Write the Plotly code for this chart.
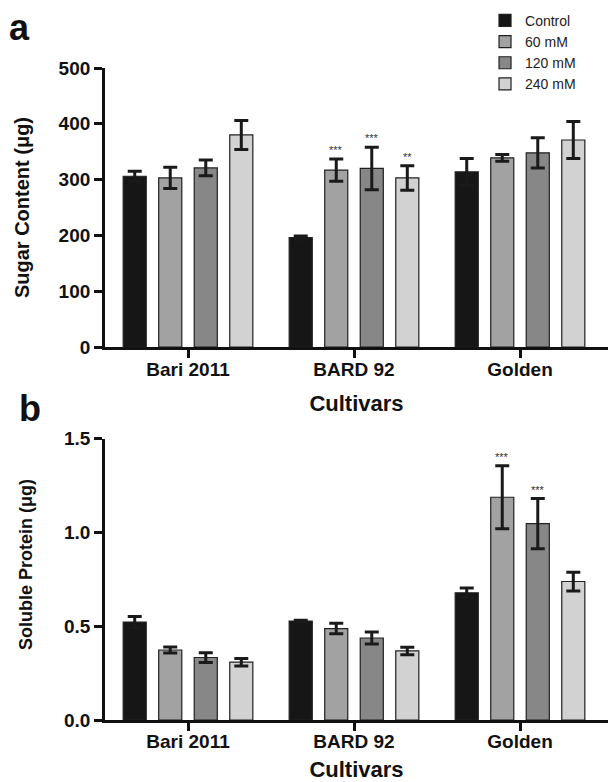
import plotly.graph_objects as go

cultivars = ["Bari 2011", "BARD 92", "Golden"]
treatments = ["Control", "60 mM", "120 mM", "240 mM"]
colors = ["#161616", "#a2a2a2", "#878787", "#d2d2d2"]

sugar = {
    "Control": [306, 196, 314],
    "60 mM": [303, 317, 339],
    "120 mM": [321, 320, 348],
    "240 mM": [380, 303, 371],
}
sugar_err = {
    "Control": [9, 3, 24],
    "60 mM": [19, 20, 6],
    "120 mM": [14, 38, 27],
    "240 mM": [26, 22, 33],
}
sugar_sig = {
    "Control": ["", "", ""],
    "60 mM": ["", "***", ""],
    "120 mM": ["", "***", ""],
    "240 mM": ["", "**", ""],
}

protein = {
    "Control": [0.522, 0.527, 0.678],
    "60 mM": [0.373, 0.487, 1.187],
    "120 mM": [0.333, 0.437, 1.046],
    "240 mM": [0.308, 0.368, 0.738],
}
protein_err = {
    "Control": [0.030, 0.005, 0.026],
    "60 mM": [0.016, 0.028, 0.168],
    "120 mM": [0.026, 0.032, 0.134],
    "240 mM": [0.020, 0.020, 0.050],
}
protein_sig = {
    "Control": ["", "", ""],
    "60 mM": ["", "", "***"],
    "120 mM": ["", "", "***"],
    "240 mM": ["", "", ""],
}

FONT = "Arial, Liberation Sans, sans-serif"
SLOT = 0.214
WIDTH = 0.139
xs = list(range(len(cultivars)))

fig = go.Figure()


def add_panel(values, errs, sigs, xaxis, yaxis, show_legend):
    for k, t in enumerate(treatments):
        off = -2 * SLOT + k * SLOT + (SLOT - WIDTH) / 2
        fig.add_trace(go.Bar(
            x=xs, y=values[t], name=t, width=WIDTH, offset=off,
            marker=dict(color=colors[k], line=dict(color="#202020", width=1.2)),
            error_y=dict(type="data", array=errs[t], color="#1a1a1a", thickness=3, width=7),
            xaxis=xaxis, yaxis=yaxis, showlegend=show_legend, legendgroup=t,
        ))
        for i, s in enumerate(sigs[t]):
            if s:
                fig.add_annotation(
                    x=i + off + WIDTH / 2, y=values[t][i] + errs[t][i],
                    xref=xaxis, yref=yaxis, text=s, showarrow=False,
                    yanchor="bottom", yshift=1,
                    font=dict(family=FONT, size=11, color="#333333"),
                )


add_panel(sugar, sugar_err, sugar_sig, "x", "y", True)
add_panel(protein, protein_err, protein_sig, "x2", "y2", False)

axis_common = dict(
    showline=True, linewidth=2.8, linecolor="#111", ticks="outside",
    tickwidth=2.8, tickcolor="#111", ticklen=8, showgrid=False, zeroline=False,
)
xrange = [-0.5, 2.53]
tickfont = dict(family=FONT, size=19, color="#111", weight="bold")
ytickfont = dict(family=FONT, size=19, color="#111", weight="bold")

fig.update_layout(
    xaxis=dict(domain=[0, 1], range=xrange, anchor="y", tickvals=xs, ticktext=cultivars,
               tickfont=tickfont, ticklabelstandoff=-5,
               title=dict(text="Cultivars", font=dict(family=FONT, size=22, color="#111", weight="bold"), standoff=17),
               **axis_common),
    yaxis=dict(domain=[0.572, 1], range=[0, 500], anchor="x", tickvals=[0, 100, 200, 300, 400, 500],
               tickfont=ytickfont,
               title=dict(text="Sugar Content (μg)", font=dict(family=FONT, size=20, color="#111", weight="bold"), standoff=24),
               **axis_common),
    xaxis2=dict(domain=[0, 1], range=xrange, anchor="y2", tickvals=xs, ticktext=cultivars,
                tickfont=tickfont, ticklabelstandoff=-6,
                title=dict(text="Cultivars", font=dict(family=FONT, size=22, color="#111", weight="bold"), standoff=12),
                **axis_common),
    yaxis2=dict(domain=[0, 0.4317], range=[0, 1.5], anchor="x2", tickvals=[0, 0.5, 1.0, 1.5],
                tickformat=".1f", tickfont=ytickfont,
                **axis_common),
    barmode="overlay",
    width=611, height=782,
    margin=dict(l=105, r=3, t=68, b=62, autoexpand=False),
    paper_bgcolor="white", plot_bgcolor="white",
    legend=dict(x=0.7555, y=1.097, xanchor="left", yanchor="top",
                font=dict(family=FONT, size=14, color="#222"),
                bgcolor="rgba(0,0,0,0)", itemwidth=30, tracegroupgap=0),
)

# y title of panel b (placed slightly above the axis centre, as in the reference)
fig.add_annotation(text="Soluble Protein (μg)", xref="paper", yref="paper",
                   x=(26 - 105) / 503, y=(720 - 565) / 652, textangle=-90,
                   xanchor="center", yanchor="middle", showarrow=False,
                   font=dict(family=FONT, size=18, color="#111", weight="bold"))

fig.add_annotation(text="a", xref="paper", yref="paper", x=-0.169, y=(720 - 27) / 652,
                   xanchor="center", yanchor="middle", showarrow=False,
                   font=dict(family=FONT, size=36, color="#111", weight="bold"))
fig.add_annotation(text="b", xref="paper", yref="paper", x=-0.150, y=(720 - 408) / 652,
                   xanchor="center", yanchor="middle", showarrow=False,
                   font=dict(family=FONT, size=36, color="#111", weight="bold"))

fig.write_html("out.html", config={"displayModeBar": False},
               post_script="document.body.style.margin='0';")
